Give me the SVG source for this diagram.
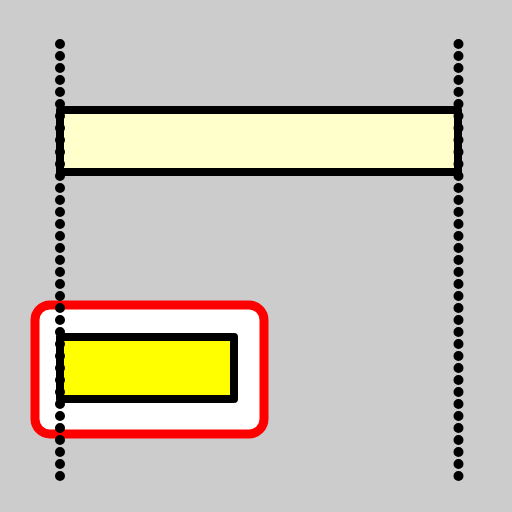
<svg xmlns="http://www.w3.org/2000/svg" width="512" height="512" viewBox="0 0 512 512">
  <style>
    .box { stroke: #000; stroke-width: 8; stroke-linejoin: round; }
    .life { stroke: #000; stroke-width: 10; stroke-linecap: round; stroke-dasharray: 0 12; fill: none; }
  </style>
  <rect x="0" y="0" width="512" height="512" fill="#cccccc"/>
  <g id="frame">
    <rect x="35" y="305" width="229" height="129" rx="15" ry="15" fill="#ffffff" stroke="#ff0000" stroke-width="9"/>
  </g>
  <g id="bar1">
    <rect class="box" x="60" y="110" width="398" height="62" fill="#ffffcc"/>
  </g>
  <g id="bar2">
    <rect class="box" x="60" y="337" width="174" height="62" fill="#ffff00"/>
  </g>
  <g id="connectors">
    <line class="life" x1="60" y1="44" x2="60" y2="476.5"/>
    <line class="life" x1="458.5" y1="44" x2="458.5" y2="476.5"/>
  </g>
</svg>
